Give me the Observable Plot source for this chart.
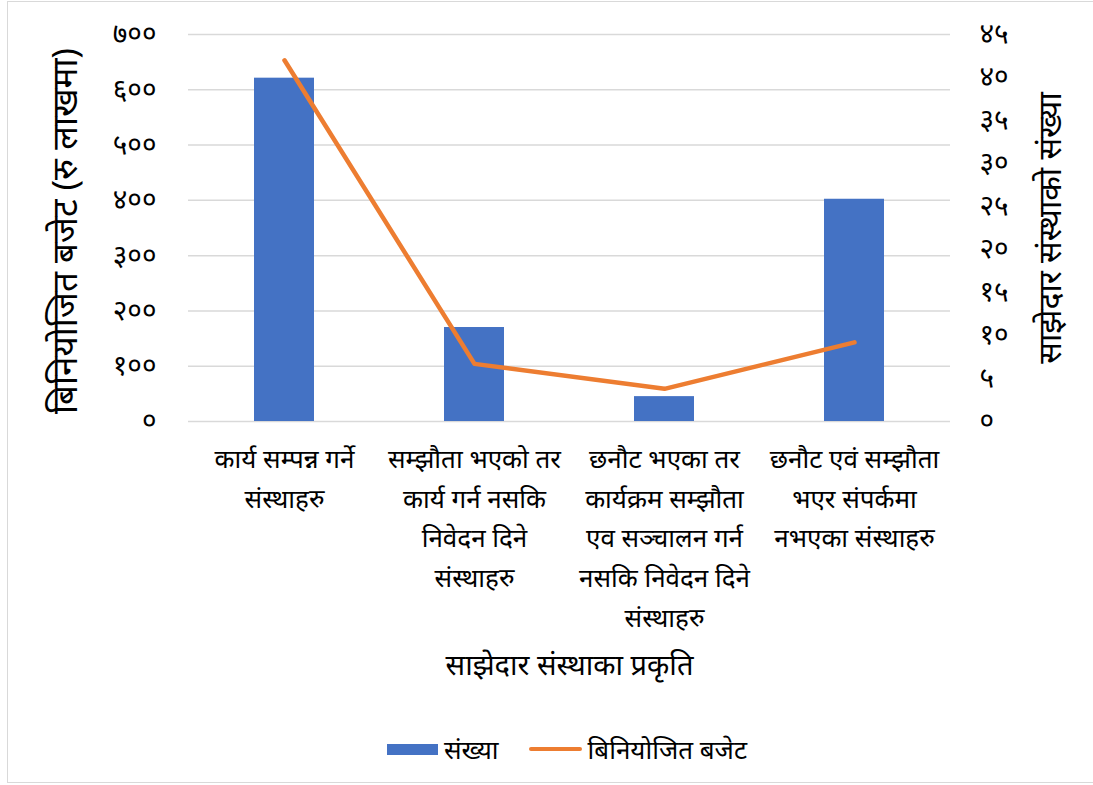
<!DOCTYPE html>
<html>
<head>
<meta charset="utf-8">
<script src="https://cdn.jsdelivr.net/npm/d3@7"></script>
<script src="https://cdn.jsdelivr.net/npm/@observablehq/plot@0.6"></script>
<style>
  html, body { margin: 0; padding: 0; background: #fff; }
  #wrap { position: relative; width: 1093px; height: 785px; overflow: hidden; font-family: "Noto Sans", sans-serif; }
  #frame { position: absolute; left: 7px; top: 1px; width: 1100px; height: 782px; border: 1.5px solid #d9d9d9; box-sizing: border-box; }
  #chart { position: absolute; left: 0; top: 0; }
  #legend { position: absolute; left: 387px; top: 731px; display: flex; align-items: center; font-size: 26px; color: #000; }
  .item { display: flex; align-items: center; margin-right: 30px; }
  .sw-bar { width: 51px; height: 11px; background: #4472c4; margin-right: 6px; }
  .sw-line { width: 53px; height: 4px; border-radius: 2px; background: #ed7d31; margin-right: 6px; }
</style>
</head>
<body>
<div id="wrap">
  <div id="frame"></div>
  <div id="chart"></div>
  <div id="legend"></div>
</div>
<script>
const categories = [
  "कार्य सम्पन्न गर्ने\nसंस्थाहरु",
  "सम्झौता भएको तर\nकार्य गर्न नसकि\nनिवेदन दिने\nसंस्थाहरु",
  "छनौट भएका तर\nकार्यक्रम सम्झौता\nएव सञ्चालन गर्न\nनसकि निवेदन दिने\nसंस्थाहरु",
  "छनौट एवं सम्झौता\nभएर संपर्कमा\nनभएका संस्थाहरु"
];
const barValues = [621, 170, 45, 402];       // संख्या (left axis)
const lineValues = [42, 6.7, 3.8, 9.2];      // बिनियोजित बजेट (right axis)
const leftTicks = [0, 100, 200, 300, 400, 500, 600, 700];
const rightTicks = [0, 5, 10, 15, 20, 25, 30, 35, 40, 45];
const leftMax = 700, rightMax = 45;
const barName = "संख्या";
const lineName = "बिनियोजित बजेट";
const leftTitle = "बिनियोजित बजेट (रु लाखमा)";
const rightTitle = "साझेदार संस्थाको संख्या";
const xTitle = "साझेदार संस्थाका प्रकृति";

const nepDigits = "०१२३४५६७८९";
const nep = v => String(Math.round(v)).replace(/[0-9]/g, d => nepDigits[+d]);
const toLeft = v => v * leftMax / rightMax;

const bars = categories.map((c, i) => ({cat: c, value: barValues[i]}));
const line = categories.map((c, i) => ({cat: c, value: toLeft(lineValues[i])}));

const font = "'Noto Sans', 'DejaVu Sans', sans-serif";

const chart = Plot.plot({
  width: 1093,
  height: 720,
  marginLeft: 188,
  marginRight: 143,
  marginTop: 34,
  marginBottom: 299,
  style: {fontFamily: font, fontSize: "20px", color: "#000", background: "transparent", overflow: "visible"},
  x: {domain: categories, paddingInner: 0.685, paddingOuter: 0.3425, label: null},
  y: {domain: [0, leftMax], label: null},
  marks: [
    Plot.gridY(leftTicks, {stroke: "#d9d9d9", strokeOpacity: 1, strokeWidth: 1.5}),
    Plot.barY(bars, {x: "cat", y: "value", fill: "#4472c4"}),
    Plot.line(line, {x: "cat", y: "value", stroke: "#ed7d31", strokeWidth: 4.5, strokeLinecap: "round", strokeLinejoin: "round"}),
    Plot.axisY({ticks: leftTicks, tickFormat: nep, tickSize: 0, tickPadding: 32, fontSize: 28, label: null}),
    Plot.axisY({anchor: "right", ticks: rightTicks.map(toLeft), tickFormat: d => nep(d * rightMax / leftMax), tickSize: 0, tickPadding: 29, fontSize: 28, label: null, textAnchor: "start"}),
    Plot.axisX({tickSize: 0, tickPadding: 18, fontSize: 26, lineHeight: 1.53, label: null, textAnchor: "middle"}),
    Plot.text([leftTitle], {frameAnchor: "left", textAnchor: "middle", dx: -123, dy: 3, rotate: -90, fontSize: 35, text: d => d}),
    Plot.text([rightTitle], {frameAnchor: "right", textAnchor: "middle", dx: 100, rotate: -90, fontSize: 32, text: d => d}),
    Plot.text([xTitle], {frameAnchor: "bottom", textAnchor: "middle", dy: 253, fontSize: 29, text: d => d})
  ]
});
document.getElementById("chart").appendChild(chart);

const legend = document.getElementById("legend");
legend.innerHTML = `<div class="item"><div class="sw-bar"></div><span>${barName}</span></div>` +
  `<div class="item"><div class="sw-line"></div><span>${lineName}</span></div>`;
</script>
</body>
</html>
